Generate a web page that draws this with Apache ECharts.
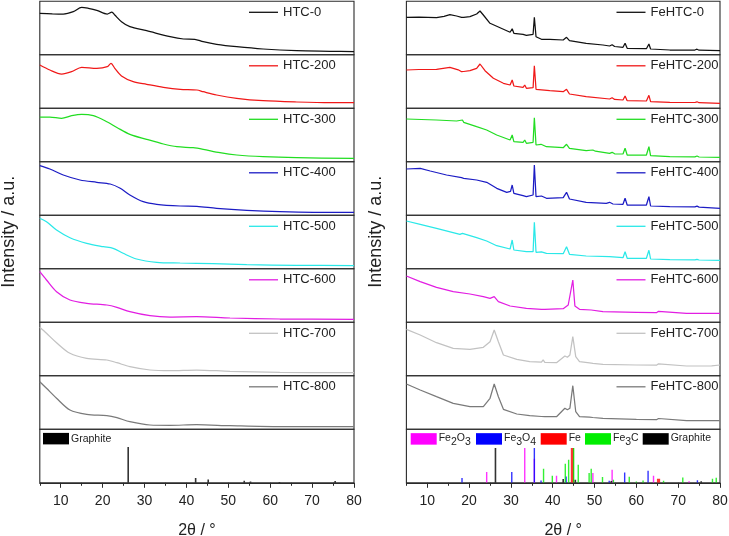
<!DOCTYPE html>
<html><head><meta charset="utf-8">
<script src="https://cdn.jsdelivr.net/npm/echarts@6/dist/echarts.min.js"></script>
<style>html,body{margin:0;padding:0;background:#fff}#c{width:729px;height:536px}</style>
</head><body><div id="c"></div>
<script>
// ---------------- data ----------------
const htcNames = ['HTC-0','HTC-200','HTC-300','HTC-400','HTC-500','HTC-600','HTC-700','HTC-800'];
const feNames = ['FeHTC-0','FeHTC-200','FeHTC-300','FeHTC-400','FeHTC-500','FeHTC-600','FeHTC-700','FeHTC-800'];

const htc0 = [[5,41.5],[8,41],[10.6,40.8],[13,43.1],[15,47.5],[16.6,46.5],[18.6,44.5],[21.1,40.8],[22.2,42.8],[22.9,39.8],[24.5,33.1],[26.5,28.1],[30.5,24.1],[36.1,18.1],[39.3,15.8],[42,15.5],[44,13.1],[47.2,10.5],[52,8.1],[58.3,5.8],[66.3,4.1],[74.3,3.5],[80,3.1]];
const htc200 = [[5,43.3],[7.4,38.3],[10.2,34.3],[12.6,36.6],[15,41],[18.6,40],[21.1,41.6],[22,45],[22.9,40],[24.5,32.3],[27.3,26.6],[30.5,24],[34.5,21],[38.5,19],[42.5,18.3],[44,16.6],[47.2,13.3],[52,10],[58.3,7.6],[66.3,6.3],[74.3,5.6],[80,5.6]];
const htc300 = [[5,44.8],[7.4,44.8],[10.2,43.5],[12.6,46.1],[15,47.5],[17.8,46.1],[21,40.1],[23.5,34.1],[26.5,27.5],[30.5,22.5],[34.5,17.8],[37.7,15.1],[41.6,14.1],[44,12.5],[48,9.1],[52,6.8],[58.3,5.1],[66.3,4.1],[80,3.5]];
const htc400 = [[5,49.6],[7.4,46.3],[10.6,40.3],[14.6,35.3],[18.6,33],[21.8,31.3],[24.2,27],[26.5,20.3],[29.7,13.6],[32.9,11],[38.5,9.3],[42.5,9],[47.2,7],[54.4,5],[62.3,3.6],[70.3,3],[80,3]];
const htc500 = [[5,50.5],[6.6,47.1],[9,38.8],[12.2,31.1],[16.2,25.5],[20.2,22.1],[22.5,20.5],[24.9,15.5],[28.1,9.8],[32.9,6.5],[38.5,5.8],[46.3,5.1],[54.4,4.1],[66.3,3.5],[80,3.1]];
const htc600 = [[5,50.6],[6.6,42.3],[9,30.6],[12.2,22.3],[16.2,19],[21,17.3],[23.4,15],[26.5,10.6],[31.3,6.6],[36.1,5.3],[42.4,5.6],[50.4,4.3],[62.3,3.3],[80,3]];
const htc700 = [[5,48.5],[6.6,42.5],[9,33.1],[12.2,22.5],[16.2,17.5],[21,15.8],[23.4,13.1],[26.5,9.1],[31.3,5.8],[36.1,5.1],[42.4,5.8],[50.4,4.5],[62.3,3.5],[80,3.1]];
const htc800 = [[5,47.6],[6.6,41],[9,31],[12.2,19.3],[16.2,15],[21,13.6],[23.4,11.6],[26.5,7.6],[31.3,4.3],[36.1,4],[42.4,4.6],[50.4,3.6],[62.3,2.6],[80,2.6]];

const fe0 = [[5,37.5],[8,37.6],[12.2,37.1],[14,38.5],[15.4,40.1],[17,38.8],[18.2,37.5],[18.4,39.1],[18.7,37.5],[20.2,38.1],[21.8,40.8],[22.6,43.8],[23.4,39.8],[25,31.5],[28.2,25.5],[29.8,22.5],[30.3,26.1],[30.7,21.5],[32.9,20.5],[33.3,22.5],[33.7,19.5],[35.3,20.5],[35.6,37.5],[36,18.1],[37.3,15.5],[37.6,16.5],[37.9,15.5],[39.3,15.5],[42.5,14.8],[43.3,17.5],[44,14.1],[48,11.5],[52,9.8],[53.6,8.8],[54.2,10.1],[54.8,8.3],[56.8,7.5],[57.3,11.5],[57.8,6.5],[62.4,6.1],[63,10.8],[63.4,5.8],[68,4.8],[74,4.8],[74.5,5.6],[75,4.6],[80,4.1]];
const fe200 = [[5,38.3],[8,38.8],[12.2,39],[15.4,41],[17.4,38.5],[18.2,36.6],[18.4,38.5],[18.7,36.8],[20.2,37.6],[21.8,40],[22.6,44.3],[23.8,37.6],[25.8,30],[28.2,25],[29.8,23.3],[30.3,28.3],[30.7,22.3],[32.9,21],[33.3,23.3],[33.7,20],[35.3,20.6],[35.6,42.6],[36,19],[39.3,17.6],[42.5,16.6],[43.3,19],[44,14.3],[48,11.6],[53.6,9.3],[54.2,10.6],[54.8,8.9],[56.8,8.3],[57.3,12.3],[57.8,7.6],[62.4,7.3],[63,13],[63.4,6.6],[68,6],[74,5.8],[74.5,6.5],[75,5.6],[80,5]];
const fe300 = [[5,42.8],[12.2,41.8],[17,40.8],[18.4,41.8],[18.7,39.5],[21.8,35.1],[24.2,31.8],[26.6,26.8],[29.8,21.8],[30.3,26.8],[30.7,20.1],[32.9,19.5],[33.3,21.8],[33.7,18.5],[35.3,19.5],[35.6,44.1],[36,16.8],[37.2,17.5],[37.6,16],[38.5,15.1],[42.5,14.1],[43.3,17.5],[44,13.5],[48,11.1],[49.6,11.8],[50.2,10.6],[53.6,8.5],[54.2,9.5],[54.8,8],[56.8,7.8],[57.3,13.5],[57.8,6.8],[62.4,6.8],[63,15.1],[63.4,6.1],[68,5.1],[74,5],[74.5,5.8],[75,4.8],[80,4.5]];
const fe400 = [[5,46.3],[8.3,47],[10.7,44.3],[14.6,40.3],[18.2,37.6],[18.4,39.3],[18.7,37],[21.8,35.3],[24.2,33],[26.6,27],[29,23],[29.9,24],[30.3,30.3],[30.7,22],[32.9,19.6],[33.3,21],[33.7,18.6],[35.3,20.3],[35.6,50.3],[36,18.6],[37.3,19.3],[37.7,17.5],[38.5,17],[42.5,17.6],[43.3,23],[44,16.3],[48,13],[52.8,12],[53.6,13],[54.4,11.3],[56.8,11],[57.3,17],[57.8,10.3],[62.4,10.3],[63,18.6],[63.4,9.3],[68,8.6],[74,8.4],[74.5,9.2],[75,8.2],[80,7]];
const fe500 = [[5,47.8],[8.3,44.5],[12.2,40.5],[17.8,34.5],[18.4,35.5],[18.7,34.2],[21.8,31.1],[24.2,27.8],[26.6,23.1],[29.8,19.8],[30.3,28.8],[30.7,18.8],[33.7,17.1],[35.3,17.1],[35.6,46.5],[36,16.5],[37.3,17],[37.7,16],[38.5,15.5],[42.5,15.1],[43.3,22.1],[44,14.5],[48,12.8],[53.6,12.1],[56.8,11.1],[57.3,17.1],[57.8,10.5],[62.4,10.5],[63,18.5],[63.4,9.8],[68,9.1],[74,8.9],[74.5,9.5],[75,8.8],[80,8.5]];
const fe600 = [[5,46.3],[8.3,40.6],[12.2,35],[16.2,30.6],[20.2,28.3],[23.4,25.6],[25,24],[26,25.6],[27,20.6],[29.8,16.3],[33.7,14],[37.3,13],[37.7,15],[38.1,13],[42.5,13.6],[43.7,17.3],[44.1,16.5],[44.8,42.3],[45.3,16.3],[46.4,13],[49.2,12.3],[52,10.6],[60,10],[64.8,9.6],[65.3,11],[65.7,9.4],[72,9],[80,9]];
const fe700 = [[5,46.5],[8.3,40.8],[12.2,33.1],[16.2,27.5],[20.2,26.5],[23.4,28.5],[25,34.1],[26,45.8],[27,34.1],[28.2,20.8],[31.4,16.5],[34.5,14.1],[37.3,13.6],[37.7,16],[38.1,13.5],[40.9,13.1],[42.9,19.8],[43.5,18.5],[44.1,20.8],[44.8,39.1],[45.5,19.1],[46.4,14.1],[48.8,13],[49.2,14.5],[49.6,12.5],[52,11.5],[60,10.8],[64.8,10.6],[65.3,12],[65.7,10.4],[72,9.8],[78,10],[80,10.8]];
const fe800 = [[5,45.3],[8.3,39.3],[12.2,32.6],[16.2,26],[20.2,22.6],[23.4,22.6],[25,31],[26,45.3],[27,32.6],[28.2,20],[31.4,15.3],[34.5,13.6],[37.3,12.8],[37.7,14.8],[38.1,12.6],[40.9,12.6],[42.9,21],[43.5,19.5],[44.1,21],[44.8,43.6],[45.5,17.6],[46.4,12.6],[48.8,12.2],[49.2,13.6],[49.6,11.8],[52,11],[60,10],[64.8,9.6],[65.3,10.8],[65.7,9.4],[72,8.6],[80,8.6]];

// reference stick patterns [2theta, relative height]
const refGraphiteLeft = [[26.1,35.7],[42.2,4.7],[45.2,3.3],[53.8,2],[55.3,1.3],[62.2,0.8],[75.5,1.7]];
const refFe2O3 = [[24.2,10.7],[33.3,34.7],[35.6,24],[40.9,7],[49.6,9.7],[54.2,13],[64.1,7],[72.6,1.5]];
const refFe3O4 = [[18.3,4.7],[30.2,10.7],[35.6,34.7],[37.2,2.3],[43.2,6.3],[53.5,2],[57.2,10.2],[62.8,12],[74.6,2.5]];
const refFe = [[44.7,34.7],[65.3,4]];
const refFe3C = [[37.8,14],[39.9,7],[43.0,19],[43.8,23],[45.0,34.7],[46.1,18],[48.7,9.7],[49.2,14],[51.9,5.7],[54.5,3],[58.3,6],[60,1.3],[61.6,2.3],[66.5,2],[71.1,5.3],[78.2,4],[79.1,5]];
const refGraphite = [[26.3,34.7],[42.5,3.7],[45.4,3],[54,1.7],[75.5,1.5]];
const refNames = ['Fe2O3','Fe3O4','Fe','Fe3C','Graphite'];

const xTickValues = [10,20,30,40,50,60,70,80];
const xMinorTickValues = [5,15,25,35,45,55,65,75];
const xTitle = '2θ / °';
const yTitle = 'Intensity / a.u.';

// ---------------- styles / layout ----------------
const htcData = [htc0,htc200,htc300,htc400,htc500,htc600,htc700,htc800];
const feData = [fe0,fe200,fe300,fe400,fe500,fe600,fe700,fe800];
const lineColors = ['#111111','#f01818','#22dd22','#1c1cc4','#2ae8e8','#e21ee2','#c2c2c2','#7a7a7a'];
const refColors = {'Fe2O3':'#ff00ff','Fe3O4':'#0000ff','Fe':'#ff0000','Fe3C':'#00ee00','Graphite':'#000000'};
const refWidths = {'Fe2O3':1.4,'Fe3O4':1.4,'Fe':3.2,'Fe3C':1.4,'Graphite':1.6};

const FONT = 'Liberation Sans, Arial, Helvetica, sans-serif';
const TOP0 = 1.3, PH = 53.5;
const sides = [{x:39.8, w:314.2, legX:249, titleX:9.5}, {x:406.4, w:313.6, legX:616.5, titleX:376.5}];
const LINE_ICON = 'path://M0,0H29V1.3H0Z';

const grids = [], xAxes = [], yAxes = [], series = [], legends = [], extraX = [], graphics = [];

function subFmt(name){
  return name.replace(/([A-Za-z]+)|(\d+)/g, (m, a, d) => a ? '{n|' + a + '}' : '{s|' + d + '}');
}

function stickRender(w){
  return function(params, api){
    const x = api.value(0), h = api.value(1);
    const p1 = api.coord([x, h]), p0 = api.coord([x, 0]);
    return {type:'rect', shape:{x:p1[0]-w/2, y:p1[1], width:w, height:p0[1]-p1[1]},
            style:{fill:api.visual('color'), opacity:0.8}};
  };
}

sides.forEach((s, si) => {
  for (let i = 0; i < 9; i++) {
    const gi = si*9 + i;
    grids.push({left:s.x, top:TOP0 + PH*i, width:s.w, height:PH, show:true,
      borderColor:'#2a2a2a', borderWidth:1.1, backgroundColor:'transparent', containLabel:false,
      outerBoundsMode:'none'});
    const bottom = (i === 8);
    xAxes.push({type:'value', gridIndex:gi, min:5, max:80, show:bottom,
      axisLine:{show:true, onZero:false, lineStyle:{color:'#2a2a2a', width:1.1}},
      axisTick:{show:true, customValues:xTickValues, length:5, lineStyle:{color:'#2a2a2a'}},
      axisLabel:{show:true, customValues:xTickValues, margin:11, fontSize:14, color:'#222', fontFamily:FONT},
      splitLine:{show:false},
      name: bottom ? xTitle : '', nameLocation:'middle', nameGap:40,
      nameTextStyle:{fontSize:16, color:'#222', fontFamily:FONT}});
    yAxes.push({type:'value', gridIndex:gi, min:0, max:PH, show:false});
    if (i < 8) {
      const nm = si===0 ? htcNames[i] : feNames[i];
      series.push({type:'line', name:nm, xAxisIndex:gi, yAxisIndex:gi,
        data: si===0 ? htcData[i] : feData[i], symbol:'none', smooth: si===0 ? 0.3 : false,
        lineStyle:{width:1.25, color:lineColors[i]}, itemStyle:{color:lineColors[i]}, z:3});
      legends.push({data:[{name:nm, icon:LINE_ICON}], left:s.legX, top:TOP0 + PH*i + 4.5, padding:0,
        itemWidth:29, itemHeight:14, textStyle:{fontSize:13, color:'#222', fontFamily:FONT},
        selectedMode:false});
    }
  }
  // minor tick overlay axis for bottom grid
  extraX.push({type:'value', gridIndex:si*9+8, min:5, max:80, position:'bottom',
    axisLine:{show:false}, axisTick:{show:true, customValues:xMinorTickValues, length:3, lineStyle:{color:'#2a2a2a'}},
    axisLabel:{show:false}, splitLine:{show:false}});
  // rotated y-axis title
  graphics.push({type:'text', x:s.titleX, y:231.7, rotation:Math.PI/2,
    style:{text:yTitle, fontSize:18, fontFamily:FONT, fill:'#222', align:'center', verticalAlign:'middle'}});
});
extraX.forEach(a => xAxes.push(a));

// reference panels
const gL = 8, gR = 17;
const refTextStyle = {fontSize:10.5, color:'#222', fontFamily:FONT, padding:[0,0,0,-3],
  rich:{n:{fontSize:10.5, fontFamily:FONT, color:'#222', lineHeight:12, verticalAlign:'top'},
        s:{fontSize:10.5, fontFamily:FONT, color:'#222', lineHeight:12, verticalAlign:'top', padding:[4,0,0,0]}}};
series.push({type:'custom', name:'Graphite', xAxisIndex:gL, yAxisIndex:gL, data:refGraphiteLeft,
  encode:{x:0,y:1}, renderItem:stickRender(1.6), itemStyle:{color:refColors['Graphite']}, clip:true});
legends.push({data:[{name:'Graphite', icon:'rect'}], left:43, top:TOP0+PH*8+3.6, padding:0,
  itemWidth:26, itemHeight:11.5, textStyle:refTextStyle, selectedMode:false});

const refSets = {'Fe2O3':refFe2O3,'Fe3O4':refFe3O4,'Fe':refFe,'Fe3C':refFe3C,'Graphite':refGraphite};
const refLegendX = [410.7, 476, 540.7, 585, 642.7];
refNames.forEach((nm, k) => {
  series.push({type:'custom', name: nm + ' ', xAxisIndex:gR, yAxisIndex:gR, data:refSets[nm],
    encode:{x:0,y:1}, renderItem:stickRender(refWidths[nm]), itemStyle:{color:refColors[nm]}, clip:true, z:2+k});
  legends.push({data:[{name:nm + ' ', icon:'rect'}], left:refLegendX[k], top:TOP0+PH*8+3.6, padding:0,
    itemWidth:26, itemHeight:11.5, selectedMode:false,
    formatter: (n) => subFmt(n.trim()), textStyle:refTextStyle});
});

const chart = echarts.init(document.getElementById('c'), null, {renderer:'canvas'});
chart.setOption({animation:false, backgroundColor:'#ffffff', grid:grids, xAxis:xAxes, yAxis:yAxes,
  legend:legends, series:series, graphic:graphics});
</script></body></html>
